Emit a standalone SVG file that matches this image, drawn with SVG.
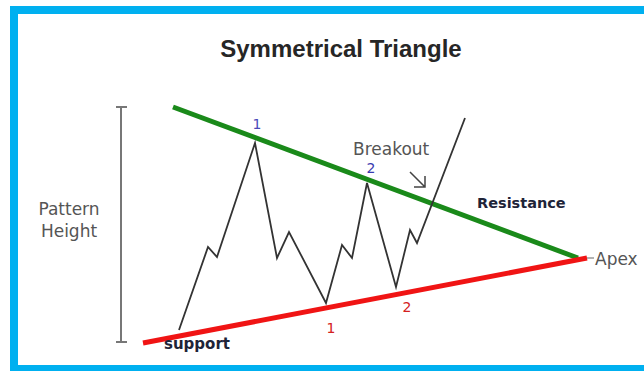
<svg xmlns="http://www.w3.org/2000/svg" width="644" height="371" viewBox="0 0 644 371">
<style>
.lbl{font-family:"DejaVu Sans",sans-serif;font-size:17px;fill:#555}
.num{font-family:"DejaVu Sans",sans-serif;font-size:14px}
.bold{font-family:"DejaVu Sans",sans-serif;font-weight:bold;fill:#1e2438}
.title{font-family:"Liberation Sans",Arial,sans-serif;font-weight:bold;font-size:24px;fill:#262626}
</style>
<rect x="0" y="0" width="644" height="371" fill="#fff"/>
<rect id="frame" x="14" y="10" width="700" height="359" fill="#fff" stroke="#00b0f0" stroke-width="8"/>
<text class="title" x="341" y="57" text-anchor="middle">Symmetrical Triangle</text>
<g id="pattern-height">
<path d="M121,107V342M116,107H127M116,342H127" stroke="#777" stroke-width="2" fill="none"/>
<text class="lbl" x="69" y="215" text-anchor="middle">Pattern</text>
<text class="lbl" x="69" y="237" text-anchor="middle">Height</text>
</g>
<g id="resistance">
<line x1="173" y1="107" x2="578" y2="258" stroke="#1a8a1a" stroke-width="5"/>
<text class="bold" x="477" y="208" font-size="14.5">Resistance</text>
</g>
<g id="support">
<line x1="143" y1="343" x2="587" y2="258" stroke="#f01414" stroke-width="5"/>
<text class="bold" x="164" y="349" font-size="15">support</text>
</g>
<g id="price">
<polyline points="179,330 208,247 217,257 255,143 277,258 289,232 326,303 342,245 352,258 367,183 396,287 410,230 417,243 465,118" fill="none" stroke="#333" stroke-width="1.8" stroke-linejoin="miter"/>
</g>
<g id="apex">
<line x1="587" y1="258" x2="594" y2="258" stroke="#999" stroke-width="1.5"/>
<text class="lbl" x="595" y="265">Apex</text>
</g>
<g id="breakout">
<text class="lbl" x="353" y="155" fill="#444">Breakout</text>
<path d="M410,172L425,187M414,187H425V176" fill="none" stroke="#444" stroke-width="1.5"/>
</g>
<g id="labels">
<text class="num" x="257" y="129" text-anchor="middle" fill="#4a4ab8">1</text>
<text class="num" x="371" y="173" text-anchor="middle" fill="#3a3ab0">2</text>
<text class="num" x="331" y="333" text-anchor="middle" fill="#d42020">1</text>
<text class="num" x="407" y="312" text-anchor="middle" fill="#d42020">2</text>
</g>
</svg>
